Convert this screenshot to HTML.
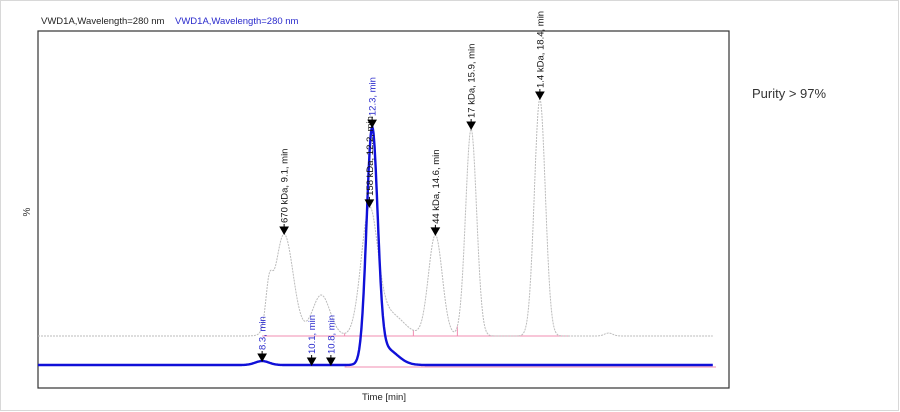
<!DOCTYPE html>
<html><head><meta charset="utf-8"><style>
body{margin:0;background:#fff;}
#wrap{position:relative;width:900px;height:412px;overflow:hidden;font-family:"Liberation Sans",sans-serif;}
</style></head><body>
<div id="wrap">
<svg id="chart" width="900" height="412">
<rect x="0.5" y="0.5" width="898" height="410" fill="#fff" stroke="#d8d8d8"/>
<text x="41" y="24" font-size="9.5" fill="#222">VWD1A,Wavelength=280 nm</text>
<text x="175" y="24" font-size="9.5" fill="#2a2acc">VWD1A,Wavelength=280 nm</text>
<rect x="38" y="31" width="691" height="357" fill="none" stroke="#333" stroke-width="1.2"/>
<text x="30" y="212" font-size="10" fill="#333" text-anchor="middle" transform="rotate(-90 30 212)">%</text>
<text x="384" y="400" font-size="9.5" fill="#222" text-anchor="middle">Time [min]</text>
<text x="752" y="98" font-size="13" fill="#333">Purity &gt; 97%</text>
<g id="marks"></g>
</svg>
</div>
<script>
// Gray (standards) trace peaks
const grayTimes = [8.55, 9.1, 10.45, 12.2, 12.95, 14.6, 15.9, 18.4, 20.9];
const grayHeights = [36, 102, 41, 122, 22, 101, 207, 237, 3];
const graySigmas = [0.12, 0.33, 0.32, 0.3, 0.5, 0.25, 0.2, 0.2, 0.15];
// Blue (sample) trace peaks
const blueTimes = [8.3, 12.3, 12.8];
const blueHeights = [4, 230, 16];
const blueSigmas = [0.25, 0.2, 0.42];
// Annotations
const grayLabels = ["670 kDa, 9.1, min", "158 kDa, 12.2, min", "44 kDa, 14.6, min", "17 kDa, 15.9, min", "1.4 kDa, 18.4, min"];
const grayLabelTimes = [9.1, 12.2, 14.6, 15.9, 18.4];
const blueLabels = ["8.3, min", "10.1, min", "10.8, min", "12.3, min"];
const blueLabelTimes = [8.3, 10.1, 10.8, 12.3];
const grayValleys = [11.3, 13.8, 15.4, 17.5];
const tMin = 0.15, tMax = 25.2;

const X0 = 38, XPX = 27.5;
function xs(t){ return X0 + (t - tMin) * XPX; }
const GRAY_BASE = 336, BLUE_BASE = 365;
function sig(t, T, H, S){ let v=0; for(let i=0;i<T.length;i++){ v += H[i]*Math.exp(-0.5*Math.pow((t-T[i])/S[i],2)); } return v; }
function yGray(t){ return GRAY_BASE - sig(t, grayTimes, grayHeights, graySigmas); }
function yBlue(t){ return BLUE_BASE - sig(t, blueTimes, blueHeights, blueSigmas); }

const NS = "http://www.w3.org/2000/svg";
const g = document.getElementById('marks');
function mk(tag, attrs){ const e=document.createElementNS(NS, tag); for(const k in attrs) e.setAttribute(k, attrs[k]); g.appendChild(e); return e; }

let e = mk('line', {x1:xs(8.3), y1:GRAY_BASE, x2:xs(19.5), y2:GRAY_BASE, stroke:'#f08cb0', 'stroke-width':1});


e = mk('line', {x1:xs(11.3), y1:BLUE_BASE+2, x2:716, y2:BLUE_BASE+2, stroke:'#f08cb0', 'stroke-width':1});


grayValleys.forEach(function(t){
  const el = mk('line', {x1:xs(t), y1:GRAY_BASE, x2:xs(t), y2:yGray(t), stroke:'#f08cb0', 'stroke-width':1});
  
  
});

function path(fn, t1, t2){ let d=''; for(let t=t1;t<=t2;t+=0.02){ d += (d?'L':'M') + xs(t).toFixed(1) + ' ' + fn(t).toFixed(1); } return d; }
e = mk('path', {d:path(yGray, tMin, 24.7), fill:'none', stroke:'#bbb', 'stroke-width':1, 'stroke-dasharray':'2 1'});


e = mk('path', {d:path(yBlue, tMin, 24.7), fill:'none', stroke:'#1010d8', 'stroke-width':2.4});



function annotate(t, y, text, color, name){
  const x = xs(t);
  const a = mk('path', {d:'M'+(x-4)+' '+(y-7)+'L'+(x+4)+' '+(y-7)+'L'+x+' '+y+'Z M'+x+' '+(y-7)+'L'+x+' '+(y-10), fill:'#000', stroke:'#000', 'stroke-width':1});
  
  
  const tx = mk('text', {x:x+3.5, y:y-11, 'font-size':9.5, fill:color, transform:'rotate(-90 '+(x+3.5)+' '+(y-11)+')'});
  tx.textContent = text;
  
  
}
grayLabelTimes.forEach(function(t,i){ annotate(t, yGray(t), grayLabels[i], '#111', 'gray-peak'); });
blueLabelTimes.forEach(function(t,i){ annotate(t, yBlue(t), blueLabels[i], '#2a2acc', 'blue-peak'); });
</script>
</body></html>
